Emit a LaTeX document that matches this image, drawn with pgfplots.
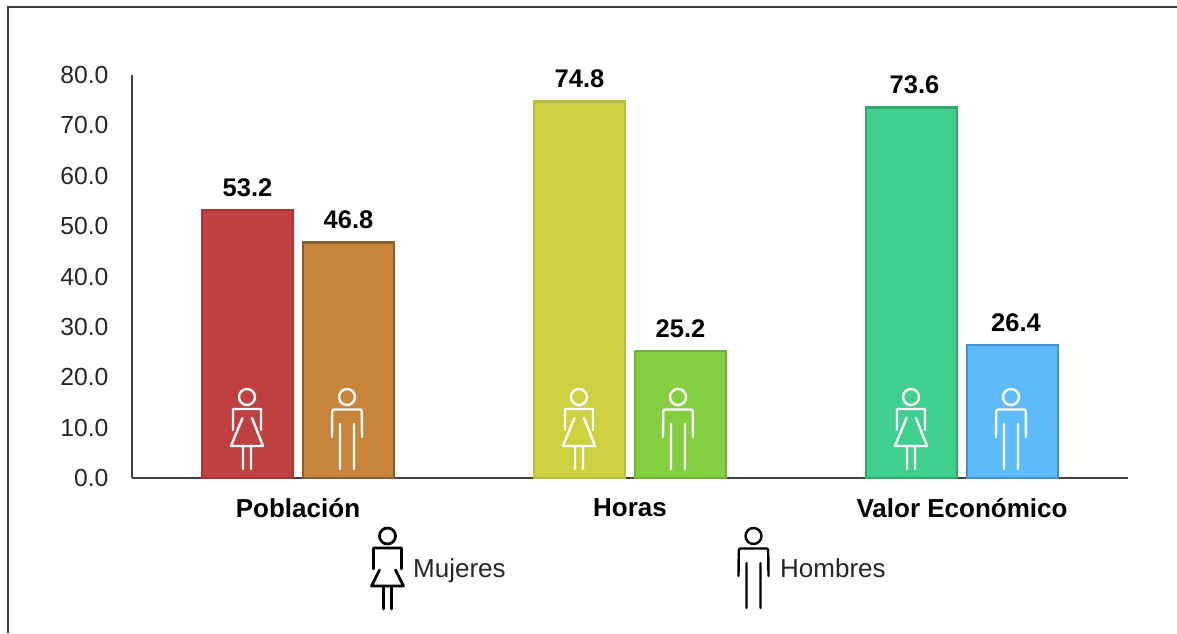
\documentclass[border=0pt]{standalone}
\usepackage{fontspec}
\setmainfont{Liberation Sans}
\usepackage{pgfplots}
\pgfplotsset{compat=1.18}
\definecolor{redf}{HTML}{C0403F}\definecolor{redd}{HTML}{AE3332}
\definecolor{brof}{HTML}{C8843A}\definecolor{brod}{HTML}{85602F}
\definecolor{yelf}{HTML}{CDD13F}\definecolor{yeld}{HTML}{B9BD3E}
\definecolor{grnf}{HTML}{84CF3F}\definecolor{grnd}{HTML}{6CB236}
\definecolor{teaf}{HTML}{3FCF8E}\definecolor{tead}{HTML}{2FA86C}
\definecolor{bluf}{HTML}{5DBBFC}\definecolor{blud}{HTML}{3F94D0}
\definecolor{axc}{HTML}{404040}
\definecolor{txt}{HTML}{262626}
\tikzset{
  woman/.pic={
    \draw[line width=2.4pt,line cap=round,line join=round,pic actions]
      (0,0) circle (8)
      (-14,33) -- (-14,12) -- (14,12) -- (14,33)
      (-4.5,21) -- (-16,49) -- (16,49) -- (5,21)
      (-4,49) -- (-4,72) (4,49) -- (4,72);
  },
  womanleg/.pic={
    \draw[line width=2.8pt,line cap=round,line join=round,pic actions]
      (0,0) circle (8)
      (-14,33) -- (-14,12) -- (14,12) -- (14,33)
      (-8,34) -- (-16,50) -- (16,50) -- (8,34)
      (-4,50) -- (-4,73) (4,50) -- (4,73);
  },
  man/.pic={
    \draw[line width=2.4pt,line cap=round,line join=round,rounded corners=2pt,pic actions]
      (-15,40) -- (-14.7,12.5) -- (14.7,12.5) -- (15,40)
      (-7,27) -- (-7,72) (7,27) -- (7,72);
    \draw[line width=2.4pt,pic actions] (0,0) circle (8);
  },
}
\begin{document}
\begin{tikzpicture}
\useasboundingbox (0,0) rectangle (1177pt,633pt);
\begin{axis}[
    at={(132pt,155pt)}, anchor=south west,
    scale only axis, width=996pt, height=403pt,
    xmin=-0.5, xmax=2.5, ymin=0, ymax=80,
    ybar, bar width=91pt,
    axis x line=bottom, axis y line=left,
    axis line style={-, color=axc, line width=1.4pt},
    major tick length=0pt,
    xtick={0,1,2},
    xticklabels={Población, Horas, Valor Económico},
    ytick={0,10,...,80},
    /pgf/number format/fixed, /pgf/number format/fixed zerofill,
    /pgf/number format/precision=1,
    /pgf/number format/assume math mode=true,
    yticklabel style={font=\fontsize{24.7}{28}\selectfont, text=txt, xshift=-20pt},
    xticklabel style={font=\fontsize{26}{28}\bfseries\selectfont, text=black, yshift=-17pt},
    nodes near coords,
    every node near coord/.append style={font=\fontsize{25.5}{28}\bfseries\selectfont, text=black, yshift=8.5pt},
    clip=false,
]
\addplot[bar shift=-50.5pt, fill=redf, draw=redd, line width=2.8pt] coordinates {(0,53.2)};
\addplot[bar shift=50.5pt, fill=brof, draw=brod, line width=2.8pt] coordinates {(0,46.8)};
\addplot[bar shift=-50.5pt, fill=yelf, draw=yeld, line width=2.8pt] coordinates {(1,74.8)};
\addplot[bar shift=50.5pt, fill=grnf, draw=grnd, line width=2.8pt] coordinates {(1,25.2)};
\addplot[bar shift=-50.5pt, fill=teaf, draw=tead, line width=2.8pt,
    every node near coord/.append style={xshift=3pt}] coordinates {(2,73.6)};
\addplot[bar shift=50.5pt, fill=bluf, draw=blud, line width=2.8pt,
    every node near coord/.append style={xshift=3.5pt}] coordinates {(2,26.4)};
\end{axis}
% everything below in image pixels, y downwards
\begin{scope}[shift={(0pt,633pt)}, x=1pt, y=-1pt]
  \draw[axc, line width=1.5pt] (8,633) -- (8,7) -- (1177,7);
  \foreach \x in {247,579,911} \pic[white] at (\x,397) {woman};
  \foreach \x in {347,678,1011} \pic[white] at (\x,397) {man};
  \pic[black] at (387.5,536) {womanleg};
  \pic[black, line width=2.8pt] at (753.5,536) {man};
  \node[anchor=base west, inner sep=0pt, text=txt, font=\fontsize{26}{28}\selectfont] at (413,577) {Mujeres};
  \node[anchor=base west, inner sep=0pt, text=txt, font=\fontsize{26}{28}\selectfont] at (780,577) {Hombres};
\end{scope}
\end{tikzpicture}
\end{document}
